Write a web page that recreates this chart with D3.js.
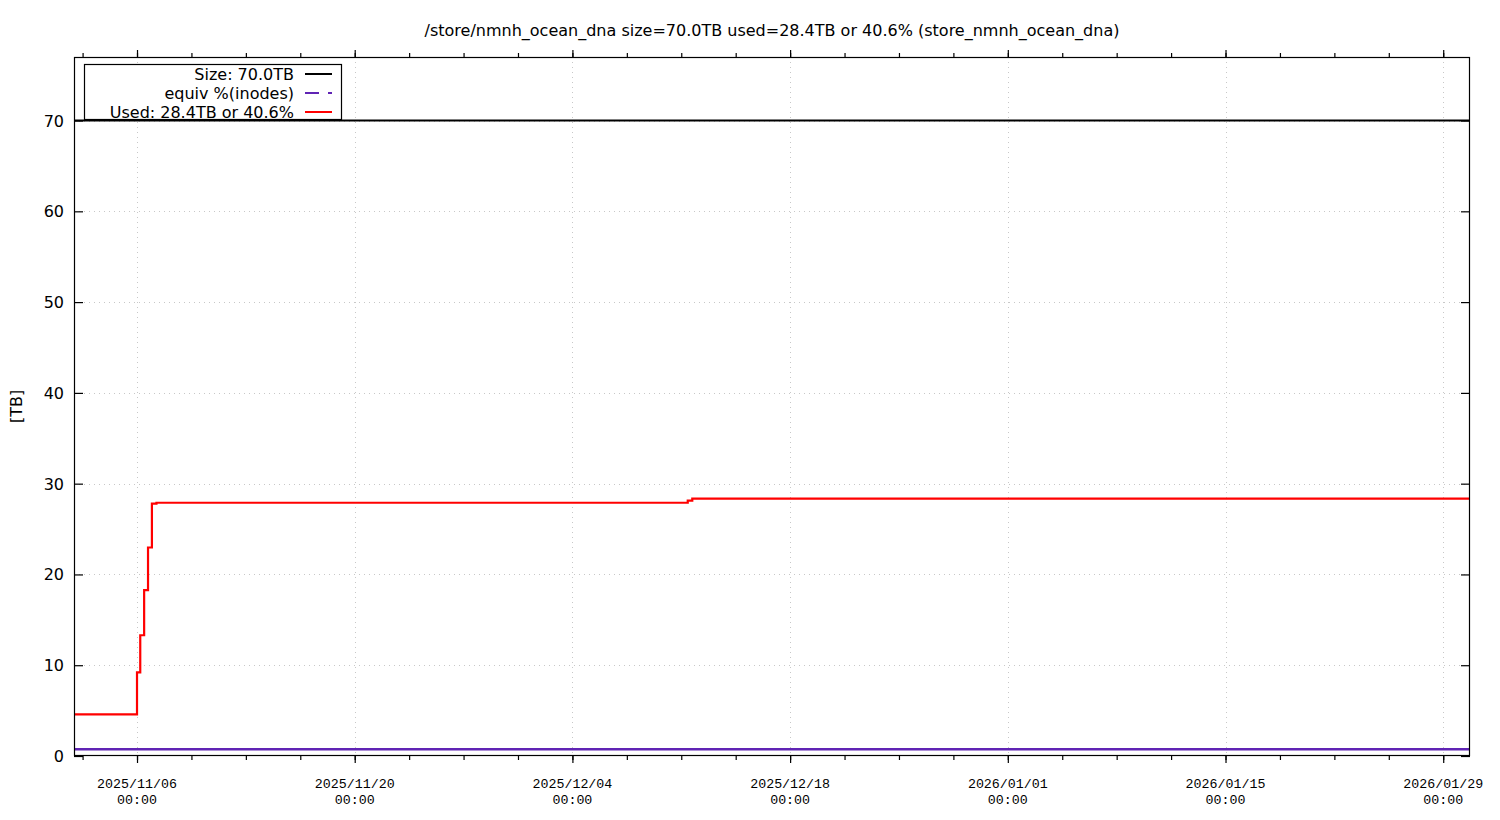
<!DOCTYPE html>
<html>
<head>
<meta charset="utf-8">
<script src="https://cdn.jsdelivr.net/npm/d3@7"></script>
<style>
  html, body { margin: 0; padding: 0; background: #fff; }
  svg { display: block; }
</style>
</head>
<body>
<svg id="chart" width="1500" height="820"></svg>
<script>
// ---- data ----
const titleText = "/store/nmnh_ocean_dna size=70.0TB used=28.4TB or 40.6% (store_nmnh_ocean_dna)";
const xDomain = ["2025-11-01T22:45:00Z", "2026-01-30T17:20:00Z"];
const yTicks = [0, 10, 20, 30, 40, 50, 60, 70];
const xMajorTicks = ["2025-11-06T00:00:00Z", "2025-11-20T00:00:00Z", "2025-12-04T00:00:00Z",
                     "2025-12-18T00:00:00Z", "2026-01-01T00:00:00Z", "2026-01-15T00:00:00Z",
                     "2026-01-29T00:00:00Z"];
const sizeTB = 70.0;
const usedTimes = ["2025-11-01T22:45:00Z", "2025-11-06T00:00:00Z", "2025-11-06T05:00:00Z",
                   "2025-11-06T11:00:00Z", "2025-11-06T17:00:00Z", "2025-11-06T23:00:00Z",
                   "2025-11-07T06:00:00Z", "2025-12-11T10:00:00Z", "2025-12-11T17:00:00Z",
                   "2026-01-30T17:20:00Z"];
const usedValues = [4.59, 9.21, 13.3, 18.27, 22.97, 27.8, 27.9, 28.14, 28.36, 28.36];
const inodeTimes = ["2025-11-01T22:45:00Z", "2026-01-30T17:20:00Z"];
const inodeValues = [0.75, 0.75];
const legendLabels = ["Size: 70.0TB", "equiv %(inodes)", "Used: 28.4TB or 40.6%"];
const seriesColors = ["#000000", "#6024b4", "#ff0000"];

// ---- layout ----
const L = 74, R = 1470, T = 57, B = 756;
const svg = d3.select("#chart");
const parse = s => new Date(s);

const x = d3.scaleUtc().domain(xDomain.map(parse)).range([L, R]);
const y = d3.scaleLinear().domain([0, 77]).range([B, T]);

const majorDates = xMajorTicks.map(parse);
// minor ticks: 4 per major interval (every 3.5 days)
const minorDates = [];
const stepMs = 3.5 * 86400000;
const d0 = majorDates[0].getTime();
for (let k = -4; k <= 30; k++) {
  const t = new Date(d0 + k * stepMs);
  if (t >= x.domain()[0] && t <= x.domain()[1]) minorDates.push(t);
}

// grid
const grid = svg.append("g").attr("stroke", "#c8c8c8").attr("stroke-width", 1).attr("stroke-dasharray", "1,4");
yTicks.filter(v => v > 0).forEach(v => {
  grid.append("line").attr("x1", L).attr("x2", R).attr("y1", Math.round(y(v)) + 0.5).attr("y2", Math.round(y(v)) + 0.5);
});
majorDates.forEach(d => {
  grid.append("line").attr("y1", T).attr("y2", B).attr("x1", Math.round(x(d)) + 0.5).attr("x2", Math.round(x(d)) + 0.5);
});

// axes via d3
const fmtDate = d3.utcFormat("%Y/%m/%d");
const fmtTime = d3.utcFormat("%H:%M");

svg.append("g").attr("transform", `translate(0,${B})`)
  .call(d3.axisBottom(x).tickValues(majorDates).tickSize(7).tickFormat(""));
svg.append("g").attr("transform", `translate(0,${B})`)
  .call(d3.axisBottom(x).tickValues(minorDates).tickSize(4).tickFormat(""));
svg.append("g").attr("transform", `translate(0,${T})`)
  .call(d3.axisTop(x).tickValues(majorDates).tickSize(7).tickFormat(""));
svg.append("g").attr("transform", `translate(0,${T})`)
  .call(d3.axisTop(x).tickValues(minorDates).tickSize(4).tickFormat(""));
svg.append("g").attr("transform", `translate(${L},0)`)
  .call(d3.axisRight(y).tickValues(yTicks).tickSize(9).tickFormat(""));
svg.append("g").attr("transform", `translate(${R},0)`)
  .call(d3.axisLeft(y).tickValues(yTicks).tickSize(9).tickFormat(""));

svg.selectAll(".domain").remove();
svg.selectAll(".tick line").attr("stroke", "#000").attr("stroke-width", 1.2);

// x labels
majorDates.forEach(d => {
  const t = svg.append("text").attr("x", x(d)).attr("text-anchor", "middle")
    .attr("font-family", "'Liberation Mono', 'DejaVu Sans Mono', monospace").attr("font-size", 13.3).attr("fill", "#000");
  t.append("tspan").attr("x", x(d)).attr("y", 788).text(fmtDate(d));
  t.append("tspan").attr("x", x(d)).attr("y", 804).text(fmtTime(d));
});
// y labels
yTicks.forEach(v => {
  svg.append("text").attr("x", 64).attr("y", y(v) + 6).attr("text-anchor", "end")
    .attr("font-family", "'DejaVu Sans', sans-serif").attr("font-size", 16).attr("fill", "#000").text(v);
});
// y axis title
svg.append("text").attr("transform", `translate(22,${(T + B) / 2}) rotate(-90)`).attr("text-anchor", "middle")
  .attr("font-family", "'DejaVu Sans', sans-serif").attr("font-size", 16).attr("fill", "#000").text("[TB]");
// title
svg.append("text").attr("x", (L + R) / 2).attr("y", 35.5).attr("text-anchor", "middle")
  .attr("font-family", "'DejaVu Sans', sans-serif").attr("font-size", 16).attr("fill", "#000").text(titleText);

// data lines
svg.append("clipPath").attr("id", "plotclip").append("rect")
  .attr("x", L).attr("y", T).attr("width", R - L).attr("height", B - T);
const plot = svg.append("g").attr("clip-path", "url(#plotclip)");

plot.append("line").attr("x1", L).attr("x2", R).attr("y1", y(sizeTB)).attr("y2", y(sizeTB))
  .attr("stroke", seriesColors[0]).attr("stroke-width", 2);

const inodeData = inodeTimes.map((t, i) => ({ t: parse(t), v: inodeValues[i] }));
plot.append("path").datum(inodeData)
  .attr("d", d3.line().x(d => x(d.t)).y(d => y(d.v)))
  .attr("fill", "none").attr("stroke", seriesColors[1]).attr("stroke-width", 2.5);

const usedData = usedTimes.map((t, i) => ({ t: parse(t), v: usedValues[i] }));
plot.append("path").datum(usedData)
  .attr("d", d3.line().curve(d3.curveStepAfter).x(d => x(d.t)).y(d => y(d.v)))
  .attr("fill", "none").attr("stroke", seriesColors[2]).attr("stroke-width", 2.2);

// border
svg.append("rect").attr("x", L + 0.5).attr("y", T + 0.5).attr("width", R - L - 1).attr("height", B - T - 1)
  .attr("fill", "none").attr("stroke", "#000").attr("stroke-width", 1.2);

// legend
const lg = svg.append("g");
lg.append("rect").attr("x", 84.5).attr("y", 64.5).attr("width", 257).attr("height", 55)
  .attr("fill", "#fff").attr("stroke", "#000").attr("stroke-width", 1.2);
const dashes = [null, "14,9,5", null];
legendLabels.forEach((lab, i) => {
  const yy = 74 + i * 19;
  lg.append("text").attr("x", 294).attr("y", yy + 6).attr("text-anchor", "end")
    .attr("font-family", "'DejaVu Sans', sans-serif").attr("font-size", 16).attr("fill", "#000").text(lab);
  lg.append("line").attr("x1", 305).attr("x2", 332).attr("y1", yy).attr("y2", yy)
    .attr("stroke", seriesColors[i]).attr("stroke-width", 2)
    .attr("stroke-dasharray", dashes[i]);
});
</script>
</body>
</html>
